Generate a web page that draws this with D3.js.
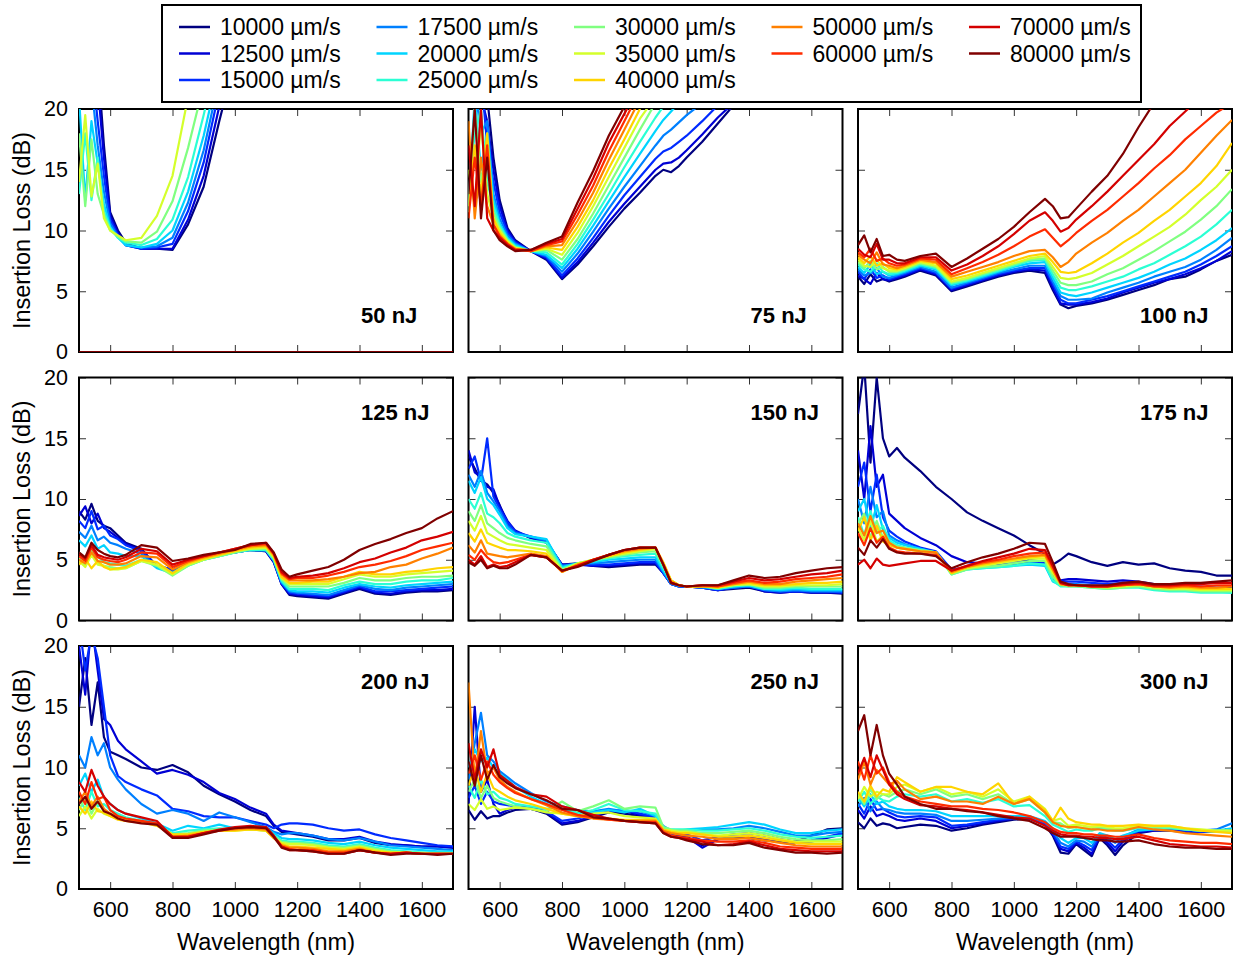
<!DOCTYPE html>
<html lang="en">
<head>
  <meta charset="UTF-8">
  <title>Insertion loss vs wavelength</title>
  <style>
    body { margin: 0; background: #fff; }
    text { font-family: "Liberation Sans", Arial, Helvetica, sans-serif; fill: #000; }
  </style>
</head>
<body>
  <svg id="svg" width="1234" height="957"></svg>
  <script src="https://d3js.org/d3.v7.min.js"></script>
  <script>
    // writing speeds, one colour each (jet map)
    const speeds = [10000, 12500, 15000, 17500, 20000, 25000, 30000, 35000, 40000, 50000, 60000, 70000, 80000]
    const colors = ['#000080', '#0000d4', '#002bff', '#0080ff', '#00d4ff', '#2bffd4', '#80ff80',
                    '#d4ff2b', '#ffd400', '#ff8000', '#ff2b00', '#d40000', '#800000']

    const waveA = [500, 520, 540, 560, 580, 600, 625, 650, 700, 750, 800, 850, 900, 950, 1000, 1050,
                   1100, 1125, 1150, 1175, 1200, 1250, 1300, 1350, 1400, 1450, 1500, 1550, 1600, 1650, 1700]
    const waveB = [500, 520, 540, 560, 580, 600, 625, 650, 700, 750, 800, 850, 900, 950, 1000, 1050,
                   1100, 1125, 1150, 1175, 1200, 1225, 1250, 1275, 1300, 1325, 1350, 1400, 1450, 1500, 1550, 1600, 1650, 1700]

    const xTicks = [600, 800, 1000, 1200, 1400, 1600]
    const yTicks = [0, 5, 10, 15, 20]

    const flat0 = [0,0,0,0,0,0, 0,0,0,0,0, 0,0,0,0,0, 0,0,0,0,0, 0,0,0,0,0, 0,0,0,0,0]

    const loss50 = [
      [26,27,25,24,17,11.5, 10.0,9.0,8.5,8.5,8.4, 10.5,13.6,19.0,24],
      [27,25,26,22,16,11.2, 9.8,8.8,8.5,8.5,8.5, 10.9,14.5,20.2,25],
      [25,26,24,19,14.5,10.9, 9.6,8.8,8.5,8.6,8.9, 11.6,15.6,21.5],
      [24,21,22,17,13.2,10.6, 9.5,8.8,8.6,8.7,9.4, 12.3,16.6,22.5],
      [21,12.5,19,15.5,12.2,10.3, 9.4,8.8,8.6,8.9,10.0, 13.2,17.8,23.5],
      [13,18,12.5,16,11.6,10.2, 9.4,9.0,8.8,9.3,10.9, 14.4,19.5,25],
      [18,12,17.5,13,11.3,10.0, 9.5,9.1,9.0,9.9,12.4, 16.8,22],
      [14,19.5,12.8,15.5,11.0,10.0, 9.6,9.2,9.4,11.2,14.5, 21],
      flat0, flat0, flat0, flat0, flat0
    ]

    const loss75 = [
      [24,23,22,21,16,12.5, 10.2,9.2,8.3,7.6,6.0, 7.2,8.7,10.3,11.8,13.1, 14.5,15.0,14.8,15.3,16.0, 17.3,18.8,20.3,22],
      [23,24,21,19,15,12, 10,9.1,8.3,7.7,6.1, 7.4,9.0,10.7,12.2,13.6, 15.0,15.5,15.6,16.0,16.6, 17.9,19.3,20.5,22],
      [22,21,23,17,14,11.5, 9.8,9.0,8.3,7.8,6.3, 7.7,9.4,11.2,12.9,14.4, 15.9,16.5,16.8,17.3,17.8, 19.0,20.3,22],
      [20,22,18,19,13,11, 9.6,8.9,8.3,7.9,6.6, 8.1,9.9,11.8,13.6,15.3, 17.0,17.8,18.3,18.9,19.5, 20.5,22],
      [12,21,15,18,12.5,10.6, 9.4,8.8,8.3,8.0,6.9, 8.5,10.4,12.4,14.4,16.3, 18.2,19.1,19.8,20.5,22],
      [13,18,20,14,12,10.4, 9.3,8.7,8.3,8.2,7.2, 8.9,10.9,13.0,15.2,17.3, 19.3,20.2,21.5],
      [11.5,20,14,17,11.5,10.2, 9.2,8.6,8.3,8.4,7.6, 9.3,11.4,13.7,16.0,18.3, 20.5,22],
      [15,12,19,13,11,10, 9.1,8.6,8.3,8.5,8.0, 9.8,12.0,14.4,16.8,19.2, 21],
      [12,17,13,18,11,9.8, 9.0,8.5,8.3,8.6,8.4, 10.3,12.5,15.1,17.5,20.0, 22],
      [19,11,16,12,10.5,9.6, 8.9,8.5,8.3,8.7,8.8, 10.8,13.1,15.8,18.3,20.8],
      [11,16,12,17,10.5,9.5, 8.9,8.4,8.3,8.8,9.1, 11.3,13.7,16.5,19.0,21.5],
      [17,12,20,11,10,9.4, 8.8,8.4,8.4,8.9,9.3, 11.8,14.3,17.2,19.6,22],
      [13,20,11,16,10,9.2, 8.7,8.3,8.4,9.0,9.5, 12.3,14.9,17.8,20.2,22]
    ]

    const loss100 = [
      [6.2,5.6,6.4,5.8,6.0,5.8, 6.0,6.2,6.7,6.3,5.0, 5.4,5.8,6.2,6.5,6.7, 6.5,5.1,3.9,3.6,3.8, 4.0,4.3,4.7,5.1,5.5, 6.0,6.2,6.8,7.5,8.0],
      [6.3,6.0,5.6,6.5,6.0,5.9, 6.1,6.3,6.8,6.4,5.1, 5.5,5.9,6.3,6.6,6.8, 6.7,5.3,4.0,3.9,3.9, 4.1,4.4,4.9,5.3,5.7, 6.0,6.4,6.9,7.5,8.3],
      [6.6,6.0,6.8,6.1,6.3,6.0, 6.2,6.4,6.9,6.5,5.2, 5.6,6.0,6.4,6.7,6.9, 6.9,5.6,4.3,4.0,4.0, 4.3,4.6,5.0,5.4,5.8, 6.2,6.6,7.2,7.9,8.7],
      [6.8,6.3,6.5,6.9,6.2,6.1, 6.3,6.5,7.0,6.6,5.3, 5.7,6.1,6.5,6.8,7.1, 7.1,5.8,4.6,4.3,4.3, 4.4,4.9,5.3,5.7,6.2, 6.6,7.0,7.6,8.4,9.4],
      [7.0,6.5,7.2,6.4,6.6,6.3, 6.4,6.6,7.1,6.8,5.5, 5.8,6.2,6.6,7.0,7.3, 7.4,6.1,4.9,4.7,4.6, 4.9,5.3,5.7,6.1,6.6, 7.2,7.7,8.4,9.2,10.2],
      [7.2,6.8,6.6,7.3,6.6,6.4, 6.5,6.7,7.2,6.9,5.6, 5.9,6.3,6.7,7.1,7.5, 7.6,6.4,5.3,5.1,5.1, 5.4,5.8,6.2,6.8,7.3, 8.0,8.7,9.5,10.5,11.7],
      [7.4,6.9,7.5,6.8,7.0,6.6, 6.6,6.8,7.3,7.0,5.7, 6.0,6.4,6.8,7.2,7.6, 7.7,6.7,5.7,5.5,5.5, 5.8,6.4,6.9,7.6,8.3, 9.1,9.9,10.9,12.0,13.4],
      [7.6,7.1,7.0,7.6,6.9,6.7, 6.7,6.9,7.4,7.1,5.8, 6.1,6.5,6.9,7.3,7.7, 7.9,7.0,6.1,6.0,6.1, 6.5,7.2,7.9,8.7,9.5, 10.3,11.3,12.5,13.6,15.0],
      [7.8,7.3,7.9,7.1,7.3,6.9, 6.8,7.0,7.5,7.3,6.0, 6.3,6.7,7.1,7.5,7.9, 8.1,7.4,6.6,6.5,6.6, 7.3,8.1,9.0,9.8,10.8, 11.7,12.8,13.9,15.3,17.2],
      [8.0,7.6,7.3,8.2,7.2,7.1, 6.9,7.1,7.6,7.4,6.2, 6.6,7.0,7.4,7.9,8.3, 8.4,7.8,7.0,7.4,8.1, 9.0,9.8,10.8,11.7,12.8, 13.9,15.0,16.4,17.8,19.1],
      [8.2,7.8,8.5,7.5,7.7,7.3, 7.1,7.2,7.7,7.6,6.4, 6.9,7.4,8.0,8.7,9.5, 10.1,9.4,8.7,9.2,9.8, 10.8,11.7,12.8,13.9,15.1, 16.2,17.5,18.6,19.7,20.5],
      [8.5,8.0,7.8,8.9,7.6,7.6, 7.3,7.3,7.8,7.8,6.7, 7.2,7.9,8.7,9.7,10.8, 11.5,10.8,9.9,10.2,10.9, 12.0,13.2,14.5,15.8,17.1, 18.6,19.8,21],
      [8.8,9.6,8.2,9.3,7.9,8.0, 7.6,7.5,7.9,8.1,7.0, 7.7,8.5,9.3,10.3,11.5, 12.6,12.0,11.0,11.1,11.8, 13.2,14.5,16.3,18.5,20.5]
    ]

    const loss125 = [
      [9.0,8.3,9.6,8.2,7.8,7.6, 7.0,6.4,5.9,4.4,4.1, 4.7,5.1,5.4,5.6,5.8, 5.7,4.8,3.0,2.1,2.0, 1.9,1.8,2.2,2.6,2.2, 2.1,2.3,2.4,2.4,2.5],
      [8.6,9.4,8.0,8.8,7.6,7.3, 6.8,6.3,5.8,4.5,4.2, 4.8,5.1,5.4,5.6,5.8, 5.7,4.8,3.0,2.2,2.1, 2.0,1.9,2.3,2.7,2.3, 2.2,2.4,2.5,2.5,2.6],
      [8.2,7.6,9.0,7.5,7.8,7.0, 6.7,6.2,5.7,4.5,4.2, 4.8,5.2,5.4,5.7,5.9, 5.8,4.9,3.1,2.3,2.2, 2.1,2.0,2.4,2.8,2.4, 2.4,2.5,2.6,2.7,2.8],
      [7.3,6.8,7.8,6.6,6.9,6.4, 6.2,5.9,5.5,4.4,4.0, 4.7,5.1,5.4,5.7,5.9, 5.8,4.9,3.1,2.4,2.3, 2.2,2.1,2.5,2.9,2.6, 2.5,2.7,2.8,2.9,3.0],
      [6.6,6.1,7.0,5.9,6.2,5.6, 5.5,5.3,5.3,4.3,3.9, 4.6,5.0,5.3,5.6,5.8, 5.8,5.0,3.2,2.5,2.4, 2.4,2.3,2.7,3.0,2.8, 2.7,2.9,3.0,3.1,3.2],
      [5.6,5.0,6.2,5.3,4.8,4.7, 4.6,4.5,5.0,4.5,3.8, 4.5,5.0,5.3,5.6,5.8, 5.8,5.0,3.3,2.6,2.6, 2.6,2.5,2.9,3.2,3.0, 3.0,3.2,3.3,3.3,3.5],
      [5.2,4.5,5.8,4.8,4.5,4.4, 4.3,4.3,4.9,4.5,3.7, 4.5,5.0,5.3,5.6,5.9, 5.9,5.1,3.4,2.8,2.8, 2.8,2.8,3.1,3.5,3.3, 3.3,3.5,3.6,3.6,3.7],
      [4.9,4.4,5.4,4.6,4.5,4.2, 4.2,4.3,4.9,4.6,3.8, 4.6,5.0,5.4,5.7,5.9, 6.0,5.2,3.5,3.0,3.0, 3.0,3.0,3.4,3.8,3.6, 3.6,3.8,3.9,4.0,4.1],
      [4.6,5.1,4.3,4.9,4.4,4.2, 4.3,4.4,5.0,4.8,3.9, 4.7,5.1,5.4,5.7,6.0, 6.1,5.3,3.6,3.1,3.1, 3.2,3.2,3.6,4.0,3.8, 3.8,4.0,4.1,4.3,4.4],
      [5.0,4.7,5.6,4.9,4.8,4.6, 4.6,4.7,5.3,5.2,4.2, 4.8,5.2,5.5,5.8,6.1, 6.2,5.4,3.8,3.3,3.3, 3.3,3.4,3.6,3.9,4.0, 4.4,4.6,5.1,5.5,6.0],
      [5.3,4.9,6.0,5.2,5.0,4.9, 4.8,5.0,5.6,5.5,4.4, 4.9,5.3,5.6,5.9,6.2, 6.3,5.5,3.9,3.4,3.5, 3.5,3.7,4.0,4.4,4.6, 4.9,5.3,5.8,6.1,6.4],
      [5.5,5.1,6.2,5.4,5.2,5.1, 5.0,5.2,5.9,5.7,4.6, 5.0,5.3,5.6,5.9,6.2, 6.4,5.5,4.0,3.5,3.6, 3.7,3.9,4.3,4.8,5.1, 5.6,6.0,6.6,6.9,7.3],
      [5.6,5.2,6.4,5.8,5.5,5.3, 5.2,5.4,6.2,6.0,4.9, 5.1,5.4,5.6,5.8,6.3, 6.4,5.6,4.2,3.6,3.8, 4.1,4.4,5.0,5.8,6.3, 6.7,7.2,7.6,8.4,9.0]
    ]

    const loss150 = [
      [13.5,12.5,11.5,11.2,10.5,9.5, 8.0,7.3,6.8,6.4,4.6, 4.7,4.5,4.4,4.5,4.6, 4.6,3.9,3.0,2.8,2.8, 2.7,2.5,2.6,2.7,2.4, 2.3,2.4,2.3,2.3,2.2],
      [14.0,12.2,11.8,11.0,10.8,9.4, 8.2,7.4,6.8,6.5,4.6, 4.6,4.5,4.5,4.6,4.7, 4.7,3.9,3.0,2.8,2.8, 2.7,2.5,2.7,2.8,2.4, 2.3,2.4,2.3,2.3,2.3],
      [12.5,13.5,11.5,15.0,10.2,9.2, 8.1,7.3,6.9,6.5,4.5, 4.6,4.6,4.6,4.7,4.8, 4.8,3.9,3.0,2.8,2.8, 2.7,2.5,2.7,2.8,2.5, 2.4,2.4,2.4,2.4,2.3],
      [12.0,11.0,12.3,10.5,9.8,9.0, 7.8,7.2,6.9,6.6,4.5, 4.7,4.7,4.8,4.9,5.0, 5.0,4.0,3.0,2.8,2.8, 2.7,2.6,2.7,2.8,2.5, 2.4,2.5,2.4,2.4,2.4],
      [11.5,10.5,11.8,10.0,9.5,8.7, 7.6,7.1,6.9,6.7,4.4, 4.7,4.8,5.0,5.1,5.2, 5.2,4.1,3.1,2.9,2.8, 2.8,2.6,2.8,2.9,2.6, 2.5,2.6,2.5,2.5,2.5],
      [10.0,9.2,10.5,8.8,8.5,8.0, 7.2,6.9,6.6,6.4,4.3, 4.7,4.9,5.1,5.3,5.4, 5.5,4.3,3.2,2.9,2.8, 2.8,2.6,2.8,2.9,2.6, 2.6,2.7,2.6,2.6,2.6],
      [9.0,8.2,9.5,8.0,7.6,7.2, 6.8,6.6,6.3,6.1,4.2, 4.7,5.0,5.2,5.4,5.6, 5.7,4.5,3.3,2.9,2.8, 2.8,2.7,2.9,3.0,2.7, 2.7,2.8,2.8,2.8,2.8],
      [8.2,7.4,8.6,7.2,6.9,6.6, 6.3,6.2,6.0,5.8,4.1, 4.7,5.0,5.3,5.5,5.7, 5.9,4.7,3.3,2.9,2.8, 2.8,2.7,2.9,3.0,2.8, 2.8,2.9,2.9,2.9,3.0],
      [7.2,6.5,7.5,6.4,6.2,6.0, 5.8,5.8,5.7,5.5,4.0, 4.6,5.0,5.3,5.6,5.8, 6.0,4.8,3.3,2.9,2.8, 2.8,2.7,3.0,3.1,2.9, 2.9,3.0,3.1,3.1,3.2],
      [6.2,5.6,6.6,5.5,5.4,5.3, 5.2,5.3,5.5,5.3,4.0, 4.6,5.0,5.4,5.7,5.9, 6.0,4.7,3.2,2.9,2.8, 2.8,2.8,3.0,3.2,3.0, 3.0,3.2,3.3,3.4,3.5],
      [5.4,5.0,5.8,5.2,4.8,4.7, 4.8,5.0,5.4,5.2,4.1, 4.5,5.0,5.4,5.8,6.0, 6.0,4.6,3.1,2.9,2.8, 2.9,2.8,3.1,3.3,3.1, 3.2,3.4,3.5,3.6,3.8],
      [5.0,4.6,5.3,4.4,4.6,4.4, 4.5,4.8,5.4,5.2,4.1, 4.5,5.0,5.4,5.8,6.0, 6.0,4.6,3.1,2.9,2.8, 2.9,2.9,3.2,3.5,3.3, 3.4,3.6,3.8,3.9,4.1],
      [4.8,4.5,5.0,4.3,4.5,4.3, 4.3,4.6,5.4,5.2,4.1, 4.4,4.9,5.4,5.8,6.0, 6.0,4.6,3.1,2.9,2.8, 2.9,2.9,3.3,3.7,3.5, 3.6,3.9,4.1,4.3,4.4]
    ]

    const loss175 = [
      [17,21,13,20,15,13.5, 14.2,13.4,12.3,11.0,10.0, 8.9,8.2,7.6,7.0,6.2, 5.5,4.6,5.0,5.5,5.3, 4.8,4.5,4.8,4.6,4.7, 4.3,4.1,4.0,3.7,3.7],
      [14,10,16,11,12,8.8, 8.2,7.6,6.8,6.2,5.3, 4.8,4.7,4.8,4.9,5.0, 4.8,3.7,3.3,3.4,3.4, 3.3,3.2,3.3,3.2,3.0, 2.9,2.8,2.8,2.7,2.7],
      [11,13,9,12,8.5,7.4, 6.9,6.5,6.0,5.7,4.2, 4.4,4.5,4.6,4.7,4.8, 4.7,3.5,3.2,3.2,3.2, 3.1,3.0,3.1,3.1,2.9, 2.8,2.8,2.7,2.6,2.6],
      [10,8,11,8.5,9,7.0, 6.6,6.3,5.9,5.6,4.0, 4.3,4.4,4.5,4.6,4.7, 4.6,3.4,3.0,3.0,3.0, 2.9,2.8,2.9,2.9,2.7, 2.6,2.6,2.5,2.5,2.5],
      [9,10,7.5,9.5,7.5,6.8, 6.4,6.2,5.9,5.6,3.9, 4.2,4.3,4.4,4.5,4.6, 4.5,3.2,2.9,2.9,2.9, 2.8,2.7,2.8,2.8,2.6, 2.5,2.5,2.4,2.4,2.3],
      [8.5,7,9,7.2,7.8,6.6, 6.2,6.0,5.8,5.6,3.8, 4.2,4.3,4.4,4.5,4.7, 4.6,3.3,2.8,2.8,2.8, 2.7,2.6,2.7,2.7,2.5, 2.4,2.4,2.3,2.3,2.3],
      [8,8.8,6.8,8.2,6.8,6.4, 6.1,6.0,5.8,5.6,3.8, 4.2,4.4,4.5,4.7,4.9, 4.9,3.6,2.9,2.8,2.8, 2.7,2.6,2.7,2.8,2.6, 2.5,2.5,2.4,2.4,2.4],
      [7.6,6.6,8.2,6.5,7,6.3, 6.0,5.9,5.7,5.6,3.9, 4.3,4.5,4.7,4.9,5.1, 5.1,3.9,3.0,2.9,2.9, 2.8,2.7,2.8,2.9,2.7, 2.6,2.6,2.5,2.5,2.5],
      [7.4,8.5,6.6,7.8,6.5,6.2, 6.0,5.9,5.7,5.6,3.9, 4.4,4.6,4.8,5.0,5.2, 5.3,4.1,3.0,2.9,2.9, 2.8,2.8,2.9,3.0,2.8, 2.7,2.7,2.6,2.6,2.6],
      [8,7,8.6,7.2,7.4,6.4, 6.0,5.9,5.7,5.6,4.0, 4.4,4.7,4.9,5.1,5.3, 5.4,4.2,3.0,2.9,2.9, 2.8,2.8,2.9,3.0,2.8, 2.7,2.8,2.7,2.7,2.8],
      [7.2,6.2,7.6,6.4,6.9,6.0, 5.7,5.6,5.5,5.4,4.1, 4.5,4.8,5.0,5.3,5.5, 5.6,4.4,3.1,2.9,2.9, 2.8,2.8,2.9,3.0,2.8, 2.8,2.9,2.8,2.9,2.9],
      [4.6,5.0,4.3,5.1,4.6,4.5, 4.6,4.7,4.9,4.9,4.1, 4.5,4.9,5.2,5.5,5.9, 5.8,4.5,3.1,2.9,2.9, 2.8,2.8,3.0,3.1,2.9, 2.9,3.0,3.0,3.1,3.1],
      [6.0,5.4,6.6,6.0,6.7,5.9, 5.6,5.5,5.5,5.3,4.3, 4.8,5.2,5.5,5.9,6.4, 6.3,4.8,3.2,3.0,2.9, 2.9,2.9,3.1,3.2,3.0, 3.0,3.1,3.1,3.2,3.3]
    ]

    const loss200 = [
      [15,19,13.5,17,12.5,11.3, 11.0,10.7,10.0,9.8,10.2, 9.6,8.5,7.8,7.2,6.5, 6.0,5.2,4.7,4.6,4.5, 4.3,4.0,4.0,4.2,3.8, 3.6,3.6,3.5,3.5,3.4],
      [20,16,22,18,14,13.5, 12.2,11.5,10.5,9.5,9.8, 9.4,8.8,7.9,7.4,6.7, 6.2,5.3,4.8,4.7,4.6, 4.4,4.1,4.1,4.3,3.9, 3.7,3.6,3.5,3.5,3.4],
      [22,18,21,19,15,11, 9.3,8.8,8.2,7.7,6.6, 6.4,6.0,5.9,5.9,5.6, 5.3,5.0,5.3,5.4,5.4, 5.3,5.0,4.8,4.9,4.5, 4.2,4.0,3.8,3.6,3.5],
      [11,10,12.5,11,12,10, 9.0,8.2,7.0,6.2,6.5, 6.2,5.6,6.3,5.9,5.5, 5.1,4.7,4.5,4.6,4.6, 4.4,4.1,4.0,4.2,3.9, 3.6,3.5,3.4,3.3,3.2],
      [8.5,9.5,8.0,9.0,7.5,7.0, 6.5,6.2,5.8,5.4,4.8, 5.2,5.0,5.3,5.0,5.1, 5.0,4.6,4.2,4.1,4.1, 4.0,3.8,3.7,3.9,3.6, 3.4,3.3,3.2,3.1,3.1],
      [7.5,6.5,8.0,6.8,7.0,6.5, 6.2,5.9,5.6,5.3,4.6, 4.8,4.9,5.0,4.9,5.0, 4.9,4.4,4.0,3.9,3.9, 3.8,3.6,3.5,3.7,3.4, 3.2,3.1,3.0,3.0,3.0],
      [6.5,7.5,6.2,7.2,6.4,6.2, 6.0,5.8,5.6,5.3,4.5, 4.6,4.8,4.9,4.9,4.9, 4.8,4.3,3.9,3.8,3.8, 3.7,3.5,3.4,3.6,3.3, 3.1,3.0,3.0,2.9,2.9],
      [6.0,6.8,5.8,6.6,6.2,6.0, 5.8,5.7,5.5,5.3,4.4, 4.5,4.7,4.8,4.8,4.9, 4.8,4.2,3.8,3.7,3.7, 3.6,3.4,3.3,3.5,3.2, 3.0,3.0,2.9,2.9,2.9],
      [6.8,6.2,7.2,6.4,6.3,6.0, 5.7,5.6,5.5,5.2,4.5, 4.5,4.7,4.8,4.8,4.9, 4.8,4.2,3.7,3.5,3.5, 3.4,3.3,3.2,3.4,3.1, 3.0,3.0,2.9,2.9,2.9],
      [7.2,8.0,6.8,7.6,6.6,6.2, 5.8,5.6,5.5,5.3,4.3, 4.4,4.6,4.8,4.9,5.0, 4.9,4.2,3.6,3.4,3.4, 3.3,3.1,3.1,3.3,3.0, 2.9,3.0,2.9,2.9,2.9],
      [8.0,7.0,8.8,7.4,7.6,6.5, 6.0,5.8,5.6,5.4,4.3, 4.3,4.6,4.8,5.0,5.1, 5.0,4.3,3.5,3.3,3.2, 3.2,3.0,3.0,3.2,3.0, 2.9,3.0,2.9,2.9,2.9],
      [8.8,8.0,9.8,8.5,7.6,7.0, 6.5,6.2,5.9,5.6,4.3, 4.3,4.6,4.9,5.1,5.2, 5.1,4.4,3.5,3.2,3.2, 3.1,2.9,2.9,3.2,3.0, 2.9,3.0,2.9,2.9,2.9],
      [7.0,7.6,6.6,7.2,6.4,6.2, 5.8,5.6,5.4,5.3,4.2, 4.2,4.5,4.8,5.0,5.1, 5.0,4.3,3.4,3.2,3.2, 3.1,2.9,2.9,3.2,3.0, 2.8,2.9,2.9,2.8,2.9]
    ]

    const loss250 = [
      [6.5,5.7,6.4,5.8,6.0,6.0, 6.3,6.5,6.6,6.2,5.3, 5.5,5.9,6.3,6.2,6.0, 5.8,5.0,4.6,4.4,4.3, 3.6,4.1,4.2,4.2,4.0, 3.9,3.9,4.4,4.9,5.0],
      [7.0,15,8.0,9.0,7.0,6.2, 6.5,6.7,6.6,6.3,5.4, 5.6,6.0,6.4,6.4,6.1, 5.8,5.0,4.6,4.4,4.3, 3.4,4.1,4.3,4.3,4.1, 3.9,3.8,3.9,4.2,4.5],
      [7.5,8.5,7.0,8.0,7.2,7.0, 6.9,6.8,6.7,6.4,5.6, 5.8,6.1,6.4,6.5,6.2, 5.9,5.0,4.6,4.5,4.5, 4.0,4.3,4.5,4.6,4.4, 4.1,3.9,4.0,4.3,4.6],
      [9.0,12,14.5,11,10.5,9.7, 9.2,8.7,7.9,7.2,6.8, 6.5,6.4,6.6,6.4,6.4, 6.0,5.2,4.8,4.8,4.8, 4.9,4.9,5.0,5.2,5.0, 4.7,4.4,4.4,4.6,4.7],
      [10,11.5,10.5,10.8,10,9.5, 9.0,8.4,7.6,7.0,6.6, 6.3,6.3,6.5,6.3,6.6, 6.0,5.0,4.8,4.8,4.9, 5.0,5.1,5.3,5.5,5.3, 4.9,4.6,4.6,4.8,4.9],
      [8.5,7.5,9.0,7.8,8.0,7.5, 7.3,7.0,6.8,6.6,6.8, 6.2,6.5,7.0,6.5,6.4, 6.2,5.1,4.9,4.9,4.9, 4.8,4.8,4.9,5.0,4.8, 4.5,4.3,4.2,4.3,4.4],
      [8.0,9.0,7.5,8.5,7.5,7.2, 7.0,6.8,6.6,6.4,7.2, 6.4,6.8,7.3,6.6,6.8, 6.7,5.1,4.9,4.8,4.8, 4.6,4.6,4.7,4.8,4.6, 4.3,4.1,4.0,4.0,4.1],
      [7.0,6.5,7.4,6.6,6.8,6.5, 6.6,6.7,6.6,6.3,6.2, 6.0,6.2,6.3,6.0,5.9, 5.8,4.9,4.8,4.7,4.7, 4.5,4.4,4.5,4.6,4.4, 4.1,3.9,3.9,3.9,3.9],
      [8.5,10,8.0,9.5,8.3,8.0, 7.6,7.3,7.0,6.6,6.2, 6.0,5.9,5.8,5.7,5.7, 5.7,4.9,4.7,4.6,4.6, 4.5,4.3,4.3,4.4,4.2, 4.0,3.8,3.7,3.7,3.7],
      [17,9.0,13,9.5,10,9.0, 8.4,8.0,7.4,6.9,6.3, 6.0,5.8,5.7,5.6,5.6, 5.6,4.8,4.6,4.5,4.4, 4.3,4.1,4.1,4.2,4.0, 3.8,3.6,3.5,3.5,3.5],
      [9.5,11,9.0,10.5,9.4,8.8, 8.3,7.9,7.4,7.0,6.5, 6.1,5.9,5.7,5.6,5.5, 5.5,4.7,4.4,4.3,4.2, 4.0,3.9,3.9,4.0,3.8, 3.5,3.4,3.3,3.3,3.3],
      [12,9.0,11.5,10,11.5,9.4, 8.9,8.4,7.8,7.6,6.8, 6.5,6.1,5.8,5.6,5.5, 5.4,4.6,4.3,4.2,4.1, 3.9,3.6,3.7,3.9,3.6, 3.3,3.2,3.1,3.1,3.1],
      [10.5,8.5,11,9.0,10.2,9.2, 8.7,8.3,7.8,7.3,6.6, 6.5,5.9,5.8,5.6,5.5, 5.4,4.6,4.3,4.2,4.0, 3.7,3.6,3.6,3.8,3.4, 3.2,3.0,3.0,2.9,3.0]
    ]

    // 300 nJ uses waveB (extra points for the ripple near 1200-1350 nm)
    const loss300 = [
      [5.5,5.0,5.8,5.2,5.4,5.3, 5.0,5.1,5.3,5.2,4.8, 5.0,5.3,5.5,5.7,5.8, 5.3,4.4,3.0,2.9,3.7, 3.2,2.7,4.2,3.6,2.8, 3.6,4.6,4.8,4.8,4.7, 4.7,4.8,4.8],
      [6.5,5.8,6.8,6.0,6.2,6.0, 5.7,5.6,5.8,5.6,5.0, 5.2,5.4,5.6,5.8,5.8, 5.3,4.5,3.3,3.1,3.8, 3.4,2.9,4.3,3.8,3.1, 3.9,4.7,4.8,4.9,4.7, 4.7,4.7,4.8],
      [7.0,6.2,7.4,6.5,6.6,6.3, 6.0,5.9,6.0,5.9,5.2, 5.3,5.5,5.7,5.8,5.8, 5.4,4.6,3.5,3.3,3.9, 3.6,3.2,4.4,4.0,3.4, 4.1,4.8,4.9,5.0,4.8, 4.7,4.7,4.9],
      [6.8,7.5,6.4,7.2,6.6,6.5, 6.3,6.2,6.2,6.1,5.6, 5.6,5.7,5.8,5.9,5.9, 5.5,4.8,3.8,3.5,4.0, 3.9,3.5,4.5,4.2,3.8, 4.3,4.9,5.0,5.1,4.9, 4.8,4.9,5.4],
      [7.5,6.8,7.8,7.0,7.2,6.8, 6.6,6.5,6.5,6.4,6.0, 6.0,6.0,6.0,6.0,6.0, 5.6,5.0,4.2,3.8,4.2, 4.2,3.8,4.6,4.4,4.1, 4.4,4.8,4.9,5.0,4.9, 4.8,4.8,5.0],
      [7.2,8.0,7.0,7.6,7.3,7.2, 7.6,7.8,7.6,7.8,7.2, 7.4,7.1,7.4,6.8,6.9, 6.0,5.3,5.0,4.7,4.9, 4.8,4.8,5.0,4.9,4.8, 4.8,5.0,5.0,5.0,4.9, 4.8,4.7,4.7],
      [7.8,7.0,8.2,7.4,7.8,7.6, 8.0,8.2,7.8,8.2,7.6, 7.8,7.4,7.8,7.0,7.4, 6.3,5.5,5.4,5.0,5.1, 5.0,5.0,5.1,5.0,4.9, 4.9,5.1,5.1,5.1,4.9, 4.8,4.8,4.8],
      [7.4,8.4,7.6,8.0,7.8,7.8, 8.4,8.6,8.0,8.4,7.8, 8.0,7.6,8.2,7.2,7.6, 6.6,5.6,5.8,5.2,5.3, 5.2,5.1,5.2,5.1,5.0, 5.0,5.2,5.2,5.2,5.0, 4.9,4.8,4.8],
      [8.0,7.2,8.5,7.6,8.2,8.0, 9.2,8.8,8.0,8.4,8.4, 8.0,7.8,8.7,7.0,7.6, 6.5,5.6,6.7,5.8,5.5, 5.4,5.3,5.3,5.2,5.2, 5.2,5.3,5.2,5.2,5.0, 4.8,4.7,4.6],
      [9.0,10.5,8.6,9.8,9.2,8.6, 8.9,8.2,7.4,7.6,7.2, 7.2,7.0,7.6,7.0,7.4, 6.3,5.5,5.2,5.1,5.1, 5.0,4.9,4.9,4.8,4.8, 4.8,5.1,4.9,4.8,4.6, 4.5,4.4,4.3],
      [10.5,9.0,11.0,9.5,10.0,8.8, 8.0,7.6,7.2,7.0,6.8, 6.8,6.6,6.5,6.3,6.0, 5.5,5.0,4.7,4.6,4.6, 4.5,4.5,4.4,4.4,4.3, 4.3,4.5,4.2,4.0,3.9, 3.8,3.8,3.7],
      [9.5,10.8,9.2,11.0,9.8,8.6, 7.8,7.4,6.9,6.8,6.6, 6.5,6.3,6.1,5.9,5.8, 5.2,4.8,4.5,4.4,4.4, 4.3,4.3,4.2,4.2,4.1, 4.1,4.3,4.0,3.7,3.6, 3.5,3.5,3.4],
      [13.0,14.3,11.0,13.5,11.0,9.5, 8.6,7.6,7.0,6.6,6.6, 6.4,6.3,6.0,5.8,5.6, 5.0,4.6,4.3,4.3,4.3, 4.2,4.1,4.0,4.0,3.9, 3.9,4.0,3.7,3.5,3.4, 3.4,3.3,3.3]
    ]

    const panels = [
      { label: '50 nJ', wave: waveA, loss: loss50 },
      { label: '75 nJ', wave: waveA, loss: loss75 },
      { label: '100 nJ', wave: waveA, loss: loss100 },
      { label: '125 nJ', wave: waveA, loss: loss125 },
      { label: '150 nJ', wave: waveA, loss: loss150 },
      { label: '175 nJ', wave: waveA, loss: loss175 },
      { label: '200 nJ', wave: waveA, loss: loss200 },
      { label: '250 nJ', wave: waveA, loss: loss250 },
      { label: '300 nJ', wave: waveB, loss: loss300 }
    ]

    const svg = d3.select('#svg')
    const W = 374, H = 243
    const left0 = 79, top0 = 109, stepX = 389.5, stepY = 268.5
    const font = '"Liberation Sans", Arial, Helvetica, sans-serif'

    const defs = svg.append('defs')

    panels.forEach((p, i) => {
      const col = i % 3
      const row = Math.floor(i / 3)
      const g = svg.append('g')
        .attr('transform', `translate(${left0 + col * stepX},${top0 + row * stepY})`)

      const x = d3.scaleLinear().domain([500, 1700]).range([0, W])
      const y = d3.scaleLinear().domain([0, 20]).range([H, 0])

      // axes first (lines are drawn on top, like the original)
      const bottom = g.append('g').attr('transform', `translate(0,${H})`)
        .call(d3.axisBottom(x).tickValues(xTicks).tickSizeInner(-7).tickSizeOuter(0).tickPadding(13)
          .tickFormat(row === 2 ? d3.format('d') : () => ''))
      const top = g.append('g')
        .call(d3.axisTop(x).tickValues(xTicks).tickSizeInner(-7).tickSizeOuter(0).tickFormat(() => ''))
      const leftAx = g.append('g')
        .call(d3.axisLeft(y).tickValues(yTicks).tickSizeInner(-7).tickSizeOuter(0).tickPadding(11)
          .tickFormat(col === 0 ? d3.format('d') : () => ''))
      const rightAx = g.append('g').attr('transform', `translate(${W},0)`)
        .call(d3.axisRight(y).tickValues(yTicks).tickSizeInner(-7).tickSizeOuter(0).tickFormat(() => ''))

      ;[bottom, top, leftAx, rightAx].forEach(a => {
        a.select('.domain').remove()
        a.selectAll('.tick line').attr('stroke', '#333').attr('stroke-width', 1)
        a.selectAll('text').attr('font-family', font).attr('font-size', 21.5).attr('fill', '#000')
      })

      g.append('rect')
        .attr('width', W).attr('height', H)
        .attr('fill', 'none').attr('stroke', '#000').attr('stroke-width', 2)

      defs.append('clipPath').attr('id', `clip${i}`)
        .append('rect').attr('width', W).attr('height', H)

      const plot = g.append('g').attr('clip-path', `url(#clip${i})`)
      const line = d3.line()
        .defined(d => d[1] != null)
        .x(d => x(d[0]))
        .y(d => y(d[1]))

      p.loss.forEach((vals, s) => {
        const pts = p.wave.map((w, k) => [w, vals[k]])
        plot.append('path')
          .attr('d', line(pts))
          .attr('fill', 'none')
          .attr('stroke', colors[s])
          .attr('stroke-width', 2.2)
          .attr('stroke-linejoin', 'round')
      })

      // energy label
      g.append('text')
        .text(p.label)
        .attr('x', x(1405))
        .attr('y', row === 0 ? y(2.4) : y(16.5))
        .attr('font-weight', 'bold')
        .attr('font-size', 22)

      if (col === 0) {
        g.append('text')
          .text('Insertion Loss (dB)')
          .attr('transform', `translate(${30 - left0},${H / 2}) rotate(-90)`)
          .attr('text-anchor', 'middle')
          .attr('font-size', 23.5)
      }
      if (row === 2) {
        g.append('text')
          .text('Wavelength (nm)')
          .attr('x', W / 2)
          .attr('y', H + 61)
          .attr('text-anchor', 'middle')
          .attr('font-size', 23.5)
      }
    })

    // legend box, 5 columns, first columns get the extra rows
    const legend = svg.append('g')
    legend.append('rect')
      .attr('x', 162).attr('y', 5).attr('width', 979).attr('height', 97)
      .attr('fill', '#fff').attr('stroke', '#000').attr('stroke-width', 2)

    const nCols = 5
    const nRows = Math.ceil(speeds.length / nCols)
    const colSizes = d3.range(nCols).map(c => c < speeds.length % nCols ? nRows : nRows - 1)
    let idx = 0
    colSizes.forEach((size, c) => {
      for (let r = 0; r < size; r++) {
        const lx = 179 + c * 197.5
        const ly = 27 + r * 26.5
        legend.append('line')
          .attr('x1', lx).attr('x2', lx + 31).attr('y1', ly).attr('y2', ly)
          .attr('stroke', colors[idx]).attr('stroke-width', 2.5)
        legend.append('text')
          .text(`${speeds[idx]} \u00b5m/s`)
          .attr('x', lx + 41).attr('y', ly)
          .attr('dy', '0.36em')
          .attr('font-size', 23)
        idx++
      }
    })
  </script>
</body>
</html>
